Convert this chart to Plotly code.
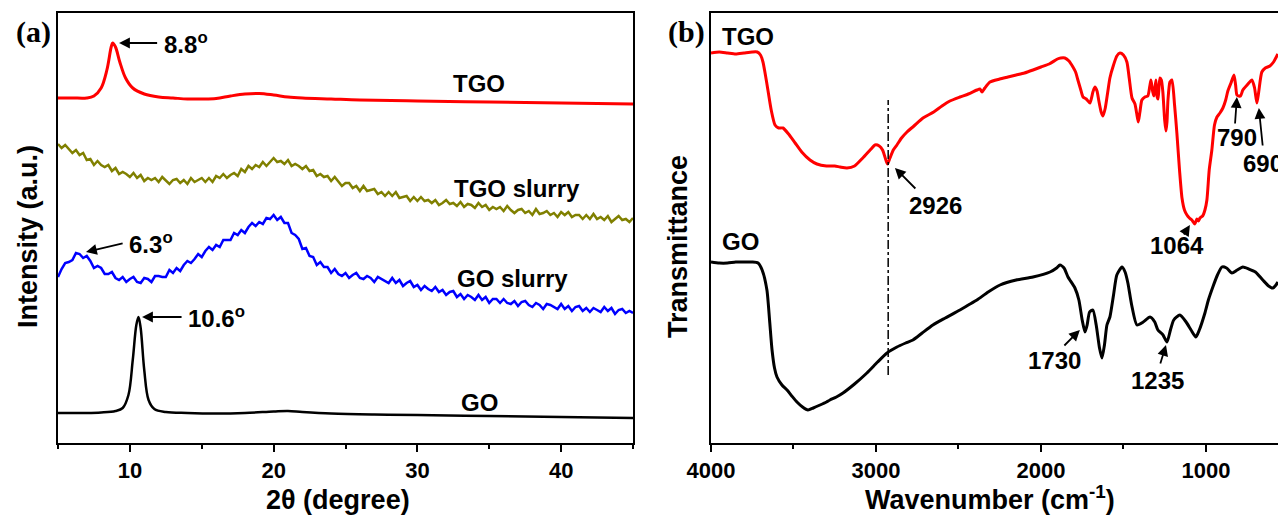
import plotly.graph_objects as go

# ---------------- (a) XRD data ----------------
two_theta_tgo = [5, 6, 7, 7.5, 8, 8.4, 8.7, 8.8, 9.0, 9.3, 9.7, 10.2, 11, 12, 13, 14, 15, 16, 17, 18,
                 19, 20, 21, 22, 24, 26, 30, 35, 40, 45]
int_tgo = [345, 345, 345, 347, 355, 373, 396, 400, 396, 381, 365, 355, 349, 346, 345, 344, 344, 344.5,
           347, 349, 349.5, 348, 346, 345, 344, 343, 342, 341, 340, 339]

two_theta_slurry = [5 + 0.25 * i for i in range(161)]
int_tgo_slurry = [
    299, 295, 298, 294, 290, 293, 288, 290, 283, 284, 278, 282, 278, 276, 278, 272, 275, 269, 271, 269,
    266, 270, 265, 268, 262, 265, 263, 265, 261, 266, 262, 259, 263, 264, 260, 263, 259, 265, 261, 263,
    265, 261, 265, 261, 267, 265, 269, 265, 268, 270, 267, 274, 271, 277, 274, 278, 276, 281, 277, 281,
    285, 281, 282, 279, 283, 277, 279, 277, 274, 277, 272, 273, 267, 269, 266, 267, 262, 266, 261, 257,
    260, 260, 255, 257, 252, 257, 252, 253, 254, 249, 251, 247, 251, 247, 251, 245, 246, 247, 242, 246,
    242, 246, 242, 243, 240, 243, 238, 240, 243, 239, 240, 237, 241, 236, 239, 238, 235, 240, 236, 238,
    233, 236, 234, 236, 232, 237, 233, 230, 233, 234, 230, 232, 228, 234, 229, 230, 232, 228, 230, 226,
    231, 228, 231, 226, 228, 228, 224, 228, 224, 229, 224, 226, 223, 227, 221, 224, 227, 223, 224, 221,
    225]
int_go_slurry = [
    166, 174, 180, 181, 183, 190, 189, 185, 187, 182, 175, 177, 175, 169, 169, 171, 165, 163, 166, 161,
    164, 166, 161, 160, 165, 164, 161, 167, 167, 166, 166, 173, 170, 175, 172, 178, 182, 180, 184, 189,
    186, 192, 196, 193, 198, 196, 203, 203, 203, 210, 208, 213, 210, 216, 220, 217, 221, 219, 225, 224,
    228, 223, 226, 220, 220, 210, 208, 204, 194, 195, 187, 186, 178, 181, 176, 176, 170, 174, 169, 167,
    170, 165, 168, 170, 165, 164, 167, 165, 161, 166, 164, 162, 160, 165, 160, 163, 157, 160, 162, 156,
    158, 153, 157, 154, 152, 156, 151, 153, 148, 151, 152, 146, 149, 144, 148, 146, 143, 148, 143, 146,
    140, 144, 144, 140, 144, 140, 139, 142, 137, 141, 142, 138, 136, 140, 138, 134, 139, 138, 136, 134,
    139, 134, 137, 132, 136, 137, 132, 135, 131, 135, 133, 131, 136, 132, 135, 129, 133, 134, 130, 132,
    130]

two_theta_go = [5, 6, 7, 8, 9, 9.5, 9.9, 10.2, 10.45, 10.6, 10.75, 11.0, 11.3, 11.7, 12.5, 14, 16, 18,
                20, 21, 22, 24, 27, 30, 35, 40, 45]
int_go = [30, 30, 30, 30.5, 32, 35, 48, 83, 118, 126, 115, 73, 43, 34, 31, 30, 29.5, 30, 31.5, 32,
          31, 29.5, 28.5, 28, 27, 26, 25]

# ---------------- (b) FTIR data ----------------
wn_tgo = [4000, 3950, 3900, 3850, 3800, 3750, 3720, 3700, 3685, 3660, 3635, 3612, 3590, 3564, 3530,
          3490, 3450, 3400, 3358, 3300, 3250, 3218, 3176, 3130, 3080, 3030, 3006, 2980, 2960, 2940,
          2930, 2915, 2895, 2873, 2845, 2812, 2770, 2715, 2650, 2600, 2552, 2491, 2440, 2388, 2370,
          2357, 2340, 2309, 2250, 2200, 2150, 2100, 2048, 2000, 1950, 1900, 1880, 1855, 1830, 1806,
          1790, 1776, 1760, 1745, 1725, 1703, 1685, 1673, 1660, 1650, 1635, 1624, 1610, 1595, 1582,
          1560, 1540, 1521, 1500, 1479, 1465, 1448, 1430, 1420, 1410, 1400, 1388, 1370, 1352, 1340,
          1333, 1322, 1315, 1303, 1297, 1290, 1279, 1270, 1261, 1250, 1242, 1236, 1230, 1218, 1206,
          1190, 1176, 1160, 1145, 1130, 1115, 1100, 1085, 1067, 1055, 1045, 1036, 1020, 1006, 994,
          980, 964, 948, 933, 915, 897, 880, 867, 848, 830, 820, 812, 800, 790, 776, 750, 721, 705,
          691, 680, 661, 640, 612, 590, 564]
tr_tgo_px = [53, 52, 53, 54, 53, 52, 52, 55, 62, 85, 110, 125, 128, 128, 134, 143, 152, 160, 164, 166,
             166, 167, 168, 166, 158, 149, 145, 146, 150, 160, 164, 158, 150, 145, 138, 132, 126, 118,
             112, 106, 101, 97, 94, 90, 89, 92, 88, 82, 79, 77, 75, 73, 70, 67, 64, 59, 58, 58, 61, 67,
             72, 80, 89, 97, 99, 103, 92, 87, 91, 100, 112, 116, 108, 92, 78, 65, 56, 53, 55, 62, 78,
             98, 104, 113, 122, 112, 100, 97, 96, 86, 80, 92, 96, 80, 96, 99, 78, 80, 92, 120, 131,
             122, 100, 82, 80, 105, 133, 170, 198, 210, 215, 218, 220, 224, 219, 221, 218, 216, 210,
             200, 170, 150, 125, 117, 113, 108, 100, 91, 83, 75, 85, 95, 96, 96, 90, 85, 80, 88, 103,
             92, 72, 68, 66, 62, 54]
tr_tgo = [443 - v for v in tr_tgo_px]

wn_go = [4000, 3950, 3900, 3850, 3800, 3750, 3715, 3690, 3661, 3645, 3630, 3615, 3600, 3570, 3539,
         3510, 3479, 3445, 3412, 3380, 3339, 3300, 3279, 3240, 3200, 3130, 3055, 2990, 2933, 2873,
         2820, 2776, 2720, 2655, 2580, 2491, 2440, 2388, 2320, 2248, 2150, 2048, 1945, 1905, 1885,
         1860, 1836, 1794, 1770, 1750, 1733, 1720, 1705, 1685, 1665, 1645, 1630, 1615, 1600, 1582,
         1560, 1540, 1509, 1490, 1473, 1450, 1418, 1380, 1339, 1310, 1291, 1260, 1236, 1215, 1195,
         1158, 1120, 1090, 1061, 1040, 1006, 985, 958, 930, 903, 875, 842, 810, 776, 740, 700, 655,
         620, 594, 575, 564]
tr_go_px = [262, 263, 263, 262, 262, 262, 263, 270, 290, 320, 350, 368, 377, 385, 390, 396, 402, 407,
            410, 408, 405, 402, 400, 397, 393, 384, 373, 362, 353, 347, 343, 340, 333, 325, 318, 310,
            305, 300, 292, 285, 280, 277, 272, 268, 265, 268, 277, 288, 300, 320, 332, 325, 312, 310,
            325, 348, 358, 345, 325, 317, 295, 275, 267, 272, 283, 305, 325, 322, 317, 322, 330, 335,
            342, 330, 320, 315, 322, 330, 337, 330, 313, 300, 287, 275, 267, 268, 273, 270, 267, 269,
            272, 280, 286, 288, 285, 282]
tr_go = [443 - v for v in tr_go_px]

marker_wn = 2926
marker_span = [68, 343]

# ---------------- figure ----------------
W, H = 1278, 516
FONT = "Liberation Sans, Arial, sans-serif"
fig = go.Figure()

lw = 3
fig.add_trace(go.Scatter(x=two_theta_tgo, y=int_tgo, mode="lines", line=dict(color="#ff0000", width=lw, shape="spline"), xaxis="x", yaxis="y"))
fig.add_trace(go.Scatter(x=two_theta_slurry, y=int_tgo_slurry, mode="lines", line=dict(color="#808000", width=2.5), xaxis="x", yaxis="y"))
fig.add_trace(go.Scatter(x=two_theta_slurry, y=int_go_slurry, mode="lines", line=dict(color="#0000ff", width=2.5), xaxis="x", yaxis="y"))
fig.add_trace(go.Scatter(x=two_theta_go, y=int_go, mode="lines", line=dict(color="#000000", width=2.5, shape="spline"), xaxis="x", yaxis="y"))

fig.add_trace(go.Scatter(x=wn_tgo, y=tr_tgo, mode="lines", line=dict(color="#ff0000", width=lw, shape="spline", smoothing=0.6), xaxis="x2", yaxis="y2"))
fig.add_trace(go.Scatter(x=wn_go, y=tr_go, mode="lines", line=dict(color="#000000", width=lw, shape="spline", smoothing=0.6), xaxis="x2", yaxis="y2"))
fig.add_trace(go.Scatter(x=[marker_wn, marker_wn], y=marker_span, mode="lines", line=dict(color="#000000", width=1.5, dash="dashdot"), xaxis="x2", yaxis="y2"))

ydom = [1 - 443 / H, 1 - 13 / H]
axis_common = dict(showline=True, linecolor="black", linewidth=2, showgrid=False, zeroline=False,
                   automargin=False, ticks="outside", ticklen=7, tickwidth=2, tickcolor="black",
                   tickfont=dict(family=FONT, size=22, color="black", weight="bold"))
yaxis_common = dict(showline=True, linecolor="black", linewidth=2, showticklabels=False, ticks="",
                    showgrid=False, zeroline=False, automargin=False)
fig.update_layout(
    width=W, height=H, margin=dict(l=0, r=0, t=0, b=0, autoexpand=False),
    paper_bgcolor="white", plot_bgcolor="white", showlegend=False, hovermode=False,
    xaxis=dict(domain=[58 / W, 633 / W], range=[5, 45], tick0=0, dtick=10, mirror=True,
               minor=dict(dtick=5, tick0=0, ticks="outside", ticklen=4, tickwidth=2, tickcolor="black"),
               anchor="y", **axis_common),
    yaxis=dict(domain=ydom, range=[0, 430], mirror=True, anchor="x", **yaxis_common),
    xaxis2=dict(domain=[711 / W, 1.0], range=[4000, 563], tick0=0, dtick=1000, mirror=True,
                minor=dict(dtick=500, tick0=0, ticks="outside", ticklen=4, tickwidth=2, tickcolor="black"),
                anchor="y2", **axis_common),
    yaxis2=dict(domain=ydom, range=[0, 430], mirror=False, anchor="x2", **yaxis_common),
)

ann = []
def text(x, y, s, xref, yref, size=24, xanchor="center", family=FONT):
    ann.append(dict(x=x, y=y, xref=xref, yref=yref, text=s, showarrow=False, xanchor=xanchor,
                    yanchor="middle", font=dict(family=family, size=size, color="black", weight="bold")))

def arrow(x0, y0, x1, y1, xr, yr):
    ann.append(dict(x=x1, y=y1, ax=x0, ay=y0, xref=xr, yref=yr, axref=xr, ayref=yr, text="",
                    showarrow=True, arrowhead=2, arrowsize=1.2, arrowwidth=1.8, arrowcolor="black"))

# panel (a)
text(12.2, 400, "8.8<sup>o</sup>", "x", "y", xanchor="left")
arrow(12.0, 400, 9.25, 400, "x", "y")
text(9.8, 200, "6.3<sup>o</sup>", "x", "y", xanchor="left")
arrow(9.6, 200, 6.95, 191, "x", "y")
text(13.9, 126, "10.6<sup>o</sup>", "x", "y", xanchor="left")
arrow(13.7, 126, 10.85, 126, "x", "y")
text(34.3, 360, "TGO", "x", "y")
text(36.9, 255, "TGO slurry", "x", "y")
text(36.6, 165, "GO slurry", "x", "y")
text(34.3, 41, "GO", "x", "y")

# panel (b)
text(3776, 407, "TGO", "x2", "y2")
text(3824, 202, "GO", "x2", "y2")
text(2642, 238, "2926", "x2", "y2")
arrow(2752, 253, 2885, 275, "x2", "y2")
text(1176, 198, "1064", "x2", "y2")
arrow(1139, 207, 1097, 218, "x2", "y2")
text(812, 306, "790", "x2", "y2")
arrow(824, 318, 812, 346, "x2", "y2")
text(655, 280, "690", "x2", "y2")
arrow(655, 296, 679, 335, "x2", "y2")
text(1915, 83, "1730", "x2", "y2")
arrow(1867, 96, 1764, 113, "x2", "y2")
text(1291, 63, "1235", "x2", "y2")
arrow(1279, 78, 1242, 98, "x2", "y2")

# panel labels & axis titles (paper coords)
def ptext(px, py, s, size, family=FONT, angle=0):
    ann.append(dict(x=px / W, y=1 - py / H, xref="paper", yref="paper", text=s, showarrow=False,
                    xanchor="center", yanchor="middle", textangle=angle,
                    font=dict(family=family, size=size, color="black", weight="bold")))

ptext(33, 32, "(a)", 30, family="Liberation Serif, Times New Roman, serif")
ptext(686, 32, "(b)", 30, family="Liberation Serif, Times New Roman, serif")
ptext(338, 500, "2θ (degree)", 27)
ptext(990, 498, "Wavenumber (cm<sup>-1</sup>)", 27)
ptext(28, 237, "Intensity (a.u.)", 27, angle=-90)
ptext(678, 247, "Transmittance", 27, angle=-90)

fig.update_layout(annotations=ann)
fig.write_html("out.html", config={"displayModeBar": False},
               post_script="document.body.style.margin='0';document.body.style.overflow='hidden';")
